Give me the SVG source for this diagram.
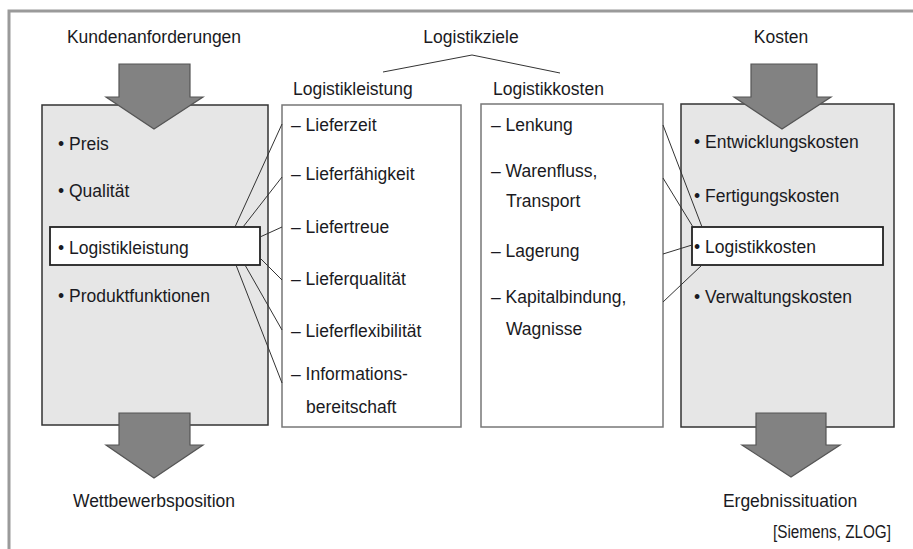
<svg xmlns="http://www.w3.org/2000/svg" width="913" height="549" viewBox="0 0 913 549">
<style>
text{font-family:"Liberation Sans",Arial,sans-serif;font-size:17.5px;fill:#1a1a22}
.c{text-anchor:middle}
.gbox{fill:#e6e6e6;stroke:#333;stroke-width:1.5}
.wbox{fill:#fff;stroke:#777;stroke-width:1.5}
.hl{fill:#fff;stroke:#222;stroke-width:1.8}
.arrow{fill:#828282;stroke:#555;stroke-width:1.2}
.ln{stroke:#333;stroke-width:1;fill:none}
</style>
<rect width="913" height="549" fill="#fff"/>
<g id="frame" fill="none" stroke="#9a9a9a" stroke-width="3">
<path d="M9,549 V11 H913"/>
</g>

<g id="logistikziele">
<text class="c" x="471" y="43">Logistikziele</text>
</g>

<g id="kunden">
<text class="c" x="154" y="43">Kundenanforderungen</text>
<rect class="gbox" x="42" y="105" width="226" height="320"/>
<polygon class="arrow" points="119,64 190,64 190,97 203,97 154,129 106,97 119,97"/>
<text x="58" y="150">• Preis</text>
<text x="58" y="197">• Qualität</text>
<rect class="hl" x="50" y="227" width="210" height="38"/>
<text x="58" y="254">• Logistikleistung</text>
<text x="58" y="302">• Produktfunktionen</text>
<polygon class="arrow" points="119,413 190,413 190,445 203,445 154,478 106,445 119,445"/>
<text class="c" x="154" y="507">Wettbewerbsposition</text>
</g>

<g id="logistikleistung">
<text x="293" y="95">Logistikleistung</text>
<rect class="wbox" x="282" y="105" width="179" height="322"/>
<text x="291" y="131">– Lieferzeit</text>
<text x="291" y="180">– Lieferfähigkeit</text>
<text x="291" y="233">– Liefertreue</text>
<text x="291" y="285">– Lieferqualität</text>
<text x="291" y="337">– Lieferflexibilität</text>
<text x="291" y="380">– Informations-</text>
<text x="306" y="413">bereitschaft</text>
</g>

<g id="logistikkosten">
<text x="493" y="95">Logistikkosten</text>
<rect class="wbox" x="481" y="104" width="182" height="323"/>
<text x="491" y="131">– Lenkung</text>
<text x="491" y="177">– Warenfluss,</text>
<text x="506" y="207">Transport</text>
<text x="491" y="257">– Lagerung</text>
<text x="491" y="303">– Kapitalbindung,</text>
<text x="506" y="335">Wagnisse</text>
</g>

<g id="kosten">
<text class="c" x="781" y="43">Kosten</text>
<rect class="gbox" x="681" y="104" width="213" height="323"/>
<polygon class="arrow" points="751,64 817,64 817,97 831,97 782,129 734,97 751,97"/>
<text x="694" y="148">• Entwicklungskosten</text>
<text x="694" y="202">• Fertigungskosten</text>
<rect class="hl" x="692" y="227" width="191" height="38"/>
<text x="694" y="253">• Logistikkosten</text>
<text x="694" y="303">• Verwaltungskosten</text>
<polygon class="arrow" points="756,413 826,413 826,445 840,445 791,477 742,445 756,445"/>
<text class="c" x="790" y="507">Ergebnissituation</text>
<text x="773" y="538" textLength="118" lengthAdjust="spacingAndGlyphs">[Siemens, ZLOG]</text>
</g>

<g id="connectors" class="ln">
<path class="ln" d="M383,72 L472,55 L560,73"/>
<path class="ln" d="M235,227 L282,124"/>
<path class="ln" d="M243,227 L282,177"/>
<path class="ln" d="M260,237 L282,227"/>
<path class="ln" d="M260,258 L282,280"/>
<path class="ln" d="M245,265 L282,330"/>
<path class="ln" d="M236,265 L282,383"/>
<path class="ln" d="M663,125 L702,227"/>
<path class="ln" d="M663,178 L693,227"/>
<path class="ln" d="M663,254 L692,245"/>
<path class="ln" d="M663,302 L702,265"/>
</g>
</svg>
